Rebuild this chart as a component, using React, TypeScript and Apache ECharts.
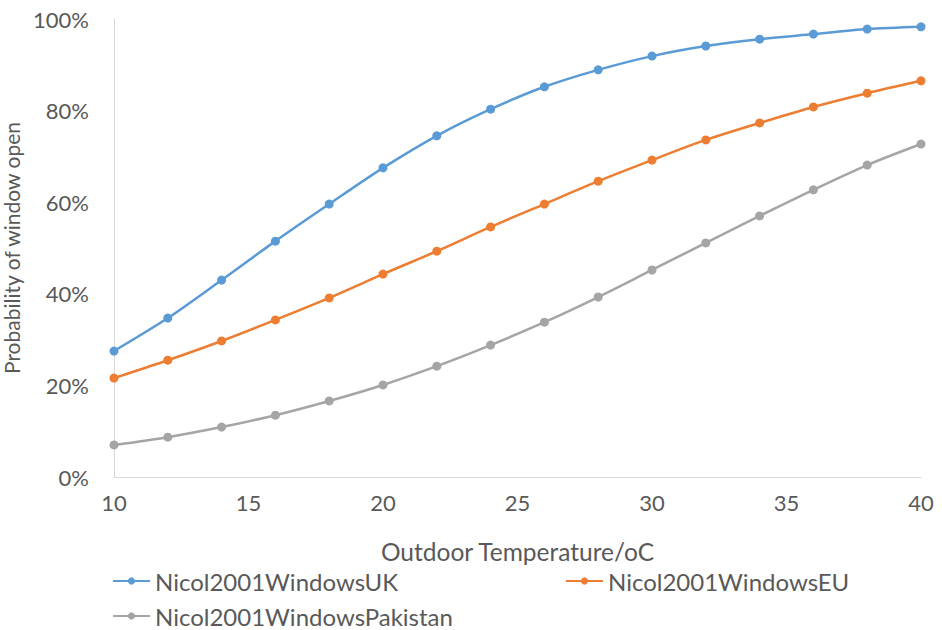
import React, { useEffect, useRef } from "react";
import * as echarts from "echarts";

const temps = [10, 12, 14, 16, 18, 20, 22, 24, 26, 28, 30, 32, 34, 36, 38, 40];
const ukValues = [0.275, 0.347, 0.43, 0.515, 0.596, 0.675, 0.745, 0.803, 0.852, 0.889, 0.919, 0.941, 0.956, 0.967, 0.978, 0.983];
const euValues = [0.216, 0.255, 0.297, 0.343, 0.391, 0.443, 0.493, 0.546, 0.596, 0.646, 0.692, 0.736, 0.773, 0.808, 0.838, 0.865];
const pkValues = [0.07, 0.087, 0.109, 0.135, 0.166, 0.201, 0.242, 0.288, 0.338, 0.393, 0.452, 0.511, 0.57, 0.627, 0.681, 0.727];
const seriesNames = ["Nicol2001WindowsUK", "Nicol2001WindowsEU", "Nicol2001WindowsPakistan"];
const colors = ["#5B9BD5", "#ED7D31", "#A5A5A5"];

const FONT = "Lato, 'Open Sans', sans-serif";
const TEXT = "#595959";

export default function App() {
  const ref = useRef<HTMLDivElement>(null);
  useEffect(() => {
    if (!ref.current) return;
    const chart = echarts.init(ref.current, null, { renderer: "svg" });
    const allValues = [ukValues, euValues, pkValues];
    const legendCommon = {
      orient: "horizontal",
      itemWidth: 37,
      itemHeight: 9,
      textStyle: { fontSize: 24, color: TEXT, fontFamily: FONT },
      selectedMode: false,
    };
    chart.setOption({
      animation: false,
      backgroundColor: "#ffffff",
      color: colors,
      grid: { left: 114, right: 21, top: 19, bottom: 153, containLabel: false, outerBoundsMode: "none" },
      xAxis: {
        type: "value",
        min: 10,
        max: 40,
        interval: 5,
        name: "Outdoor Temperature/oC",
        nameLocation: "middle",
        nameGap: 62,
        nameTextStyle: { fontSize: 24.5, color: TEXT, fontFamily: FONT },
        axisLine: { show: true, lineStyle: { color: "#D9D9D9", width: 1 } },
        axisTick: { show: false },
        splitLine: { show: false },
        axisLabel: { fontSize: 22, color: TEXT, fontFamily: FONT, margin: 14 },
      },
      yAxis: {
        type: "value",
        min: 0,
        max: 1,
        interval: 0.2,
        name: "Probability of window open",
        nameLocation: "middle",
        nameGap: 88,
        nameTextStyle: { fontSize: 21, color: TEXT, fontFamily: FONT },
        axisLine: { show: true, lineStyle: { color: "#D9D9D9", width: 1 } },
        axisTick: { show: false },
        splitLine: { show: false },
        axisLabel: {
          fontSize: 22,
          color: TEXT,
          fontFamily: FONT,
          margin: 25,
          formatter: (v: number) => Math.round(v * 100) + "%",
        },
      },
      legend: [
        { ...legendCommon, data: [seriesNames[0]], left: 107, top: 564 },
        { ...legendCommon, data: [seriesNames[1]], left: 560, top: 564 },
        { ...legendCommon, data: [seriesNames[2]], left: 107, top: 599 },
      ],
      series: seriesNames.map((name, i) => ({
        name,
        type: "line",
        smooth: 0.3,
        symbol: "circle",
        symbolSize: 9,
        lineStyle: { width: 2.5, color: colors[i] },
        itemStyle: { color: colors[i] },
        data: temps.map((t, j) => [t, allValues[i][j]]),
      })),
    });
    return () => chart.dispose();
  }, []);
  return (
    <div
      ref={ref}
      style={{ position: "fixed", left: 0, top: 0, width: 942, height: 630, background: "#fff" }}
    />
  );
}
